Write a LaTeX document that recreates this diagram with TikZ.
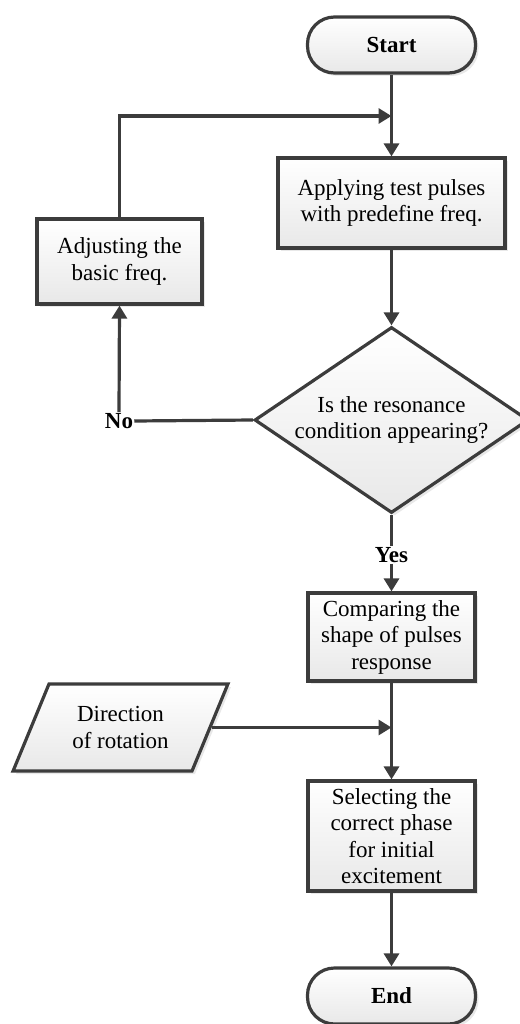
\documentclass[tikz,border=0pt]{standalone}
\usepackage{fontspec}
\setmainfont{Liberation Serif}
\usetikzlibrary{shapes.geometric,arrows.meta,shadows}
\definecolor{ln}{HTML}{3C3C3C}
\begin{document}
\begin{tikzpicture}[x=1pt,y=-1pt,
  base/.style={draw=ln, line width=3.2pt, top color=white, bottom color=black!9,
    drop shadow={opacity=0.18, shadow xshift=3pt, shadow yshift=-3pt},
    font=\fontsize{23}{26.5}\selectfont, align=center, inner sep=0pt},
  proc/.style={base, rectangle},
  term/.style={base, rectangle, rounded corners=27pt, minimum width=168pt, minimum height=56pt,
    font=\fontsize{23}{26.5}\selectfont\bfseries},
  txt/.style={font=\fontsize{23}{26.5}\selectfont, align=center, inner sep=0pt},
  lbl/.style={font=\fontsize{23}{26.5}\selectfont\bfseries, inner sep=1pt},
  wire/.style={draw=ln, line width=3.2pt},
  conn/.style={wire, -{Triangle[length=13pt,width=15pt]}}
]
\useasboundingbox (0,0) rectangle (519,1024);

\node[term] (start) at (391.5,45) {Start};
\node[proc, minimum width=227pt, minimum height=90pt] (apply) at (391.5,203)
  {Applying test pulses\\with predefine freq.};
\node[proc, minimum width=165pt, minimum height=85pt] (adjust) at (119.5,261.5)
  {Adjusting the\\basic freq.};
\node[base, diamond, minimum width=274pt, minimum height=186pt] (dec) at (391.5,420) {};
\node[txt] (dectxt) at (dec.center) {Is the resonance\\condition appearing?};
\node[lbl] (no) at (119,421) {No};
\node[lbl] (yes) at (391.5,555) {Yes};
\node[proc, minimum width=167pt, minimum height=88pt] (comp) at (391.5,637)
  {Comparing the\\shape of pulses\\response};
\node[base, trapezium, trapezium left angle=60, trapezium right angle=120,
  trapezium stretches=true, minimum width=215pt, minimum height=87pt] (dir) at (120.5,727.5)
  {Direction\\of rotation};
\node[proc, minimum width=167pt, minimum height=110pt] (sel) at (391.5,836)
  {Selecting the\\correct phase\\for initial\\excitement};
\node[term] (end) at (391.5,996) {End};

\coordinate (join1) at (391.5,116);
\coordinate (join2) at (comp.south |- dir.east);

\draw[conn] (start) -- (apply);
\draw[conn] (adjust.north) |- (join1);
\draw[conn] (apply) -- (dec);
\draw[wire] (dec.west) -- (no.east);
\draw[conn] (no.north) -- (adjust.south);
\draw[wire] (dec.south) -- (yes.north);
\draw[conn] (yes.south) -- (comp.north);
\draw[conn] (comp) -- (sel);
\draw[conn] (dir.east) -- (join2);
\draw[conn] (sel) -- (end);
\end{tikzpicture}
\end{document}
